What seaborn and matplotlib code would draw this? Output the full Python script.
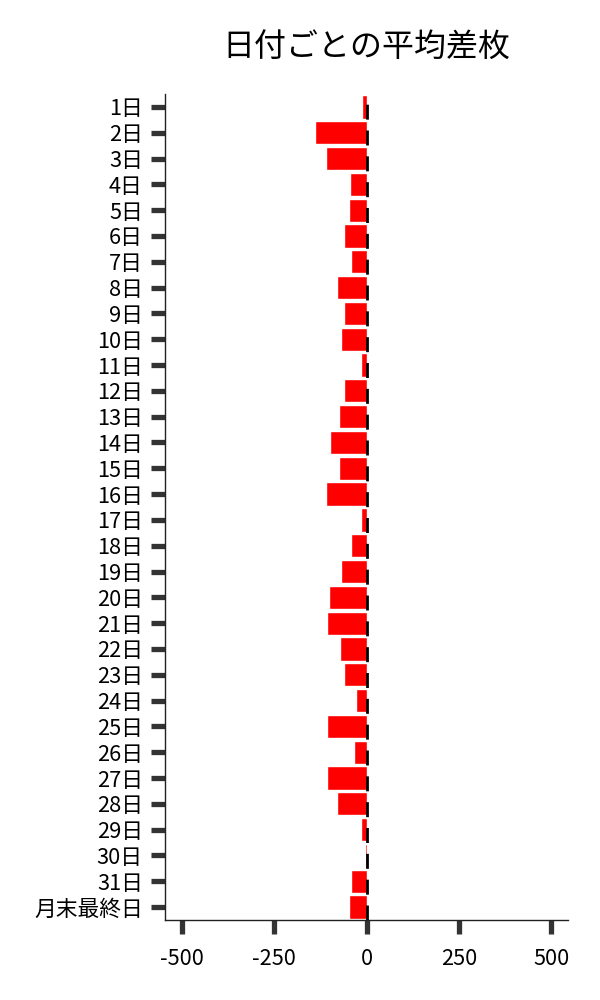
import numpy as np
import pandas as pd
import matplotlib
matplotlib.use("Agg")
import matplotlib.pyplot as plt
import seaborn as sns

# data
days = [f"{d}日" for d in range(1, 32)] + ["月末最終日"]
avg_diff = [-12, -141, -111, -46, -49, -60, -41, -79, -60, -68,
            -16, -62, -76, -100, -76, -111, -16, -41, -68, -103,
            -106, -73, -62, -30, -108, -35, -108, -81, -16, -5,
            -41, -49]

df = pd.DataFrame({"day": days, "diff": avg_diff})

sns.set_style("white")
plt.rcParams["font.family"] = ["Noto Sans CJK JP", "DejaVu Sans"]
plt.rcParams["axes.unicode_minus"] = False
plt.rcParams["text.color"] = "black"
plt.rcParams["xtick.color"] = "black"
plt.rcParams["ytick.color"] = "black"

fig = plt.figure(figsize=(6, 10), dpi=100)
ax = fig.add_axes([0.275, 0.08, 0.672, 0.826])

sns.barplot(data=df, x="diff", y="day", orient="h", color="#ff0000",
            saturation=1, width=0.9, ax=ax)

# zero line
ax.axvline(0, color="black", lw=2, dashes=(5.4, 3.9), zorder=3)

ax.set_xlim(-546, 546)
ax.set_xticks([-500, -250, 0, 250, 500])
ax.set_xlabel("")
ax.set_ylabel("")
ax.set_title("日付ごとの平均差枚", fontsize=23, pad=27, color="black")

ax.tick_params(axis="both", which="major", left=True, bottom=True,
               length=10, width=3.8, color="#333333", labelcolor="black",
               labelsize=15.7, pad=6)
ax.tick_params(axis="x", pad=10)
sns.despine(ax=ax)
for s in ["left", "bottom"]:
    ax.spines[s].set_color("#222222")
    ax.spines[s].set_linewidth(1.0)

fig.savefig("out.png", dpi=100)
